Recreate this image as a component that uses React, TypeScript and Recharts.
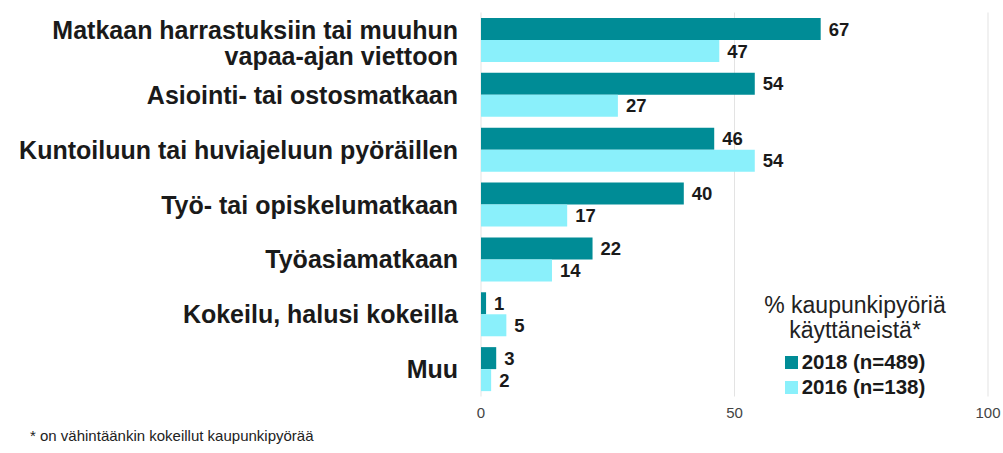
import React from 'react';
import { BarChart, Bar, XAxis, YAxis, CartesianGrid, LabelList, Legend } from 'recharts';

const categories: string[][] = [
  ['Matkaan harrastuksiin tai muuhun', 'vapaa-ajan viettoon'],
  ['Asiointi- tai ostosmatkaan'],
  ['Kuntoiluun tai huviajeluun pyöräillen'],
  ['Työ- tai opiskelumatkaan'],
  ['Työasiamatkaan'],
  ['Kokeilu, halusi kokeilla'],
  ['Muu'],
];
const values2018 = [67, 54, 46, 40, 22, 1, 3];
const values2016 = [47, 27, 54, 17, 14, 5, 2];
const xTicks = [0, 50, 100];
const seriesNames = ['2018 (n=489)', '2016 (n=138)'];
const legendTitle = ['% kaupunkipyöriä', 'käyttäneistä*'];
const footnote = '* on vähintäänkin kokeillut kaupunkipyörää';

const COLOR_2018 = '#008c96';
const COLOR_2016 = '#8af0fb';

const data = categories.map((lines, i) => ({
  name: lines.join(' '),
  lines,
  y2018: values2018[i],
  y2016: values2016[i],
}));

const FONT = '"Liberation Sans", Arial, sans-serif';

const CategoryTick = (props: any) => {
  const { x, y, payload, index } = props;
  const lines: string[] = categories[index] ?? [payload.value];
  const lh = 25.5;
  const start = lines.length > 1 ? y - 9.5 : y;
  return (
    <text x={x} y={start} textAnchor="end" fontFamily={FONT} fontWeight="bold" fontSize={25} fill="#1a1a1a">
      {lines.map((l, i) => (
        <tspan key={i} x={x} y={start + i * lh} dy="0.36em">
          {l}
        </tspan>
      ))}
    </text>
  );
};

const renderLegend = () => (
  <div style={{ fontFamily: FONT, textAlign: 'center', width: 250, color: '#222' }}>
    {legendTitle.map((t, i) => (
      <div key={i} style={{ fontSize: 23, lineHeight: '25px' }}>{t}</div>
    ))}
    <div style={{ height: 6 }} />
    {seriesNames.map((n, i) => (
      <div key={n} style={{ fontSize: 20.5, fontWeight: 'bold', lineHeight: '25px', color: '#1a1a1a' }}>
        <span
          style={{
            display: 'inline-block',
            width: 13,
            height: 13,
            background: i === 0 ? COLOR_2018 : COLOR_2016,
            marginRight: 4,
            verticalAlign: 'baseline',
          }}
        />
        {n}
      </div>
    ))}
  </div>
);

export default function App() {
  return (
    <div style={{ position: 'absolute', left: 0, top: 0, width: 1003, height: 453, background: '#fff' }}>
      <BarChart
        width={1003}
        height={453}
        data={data}
        layout="vertical"
        margin={{ top: 12.5, right: 15, bottom: 26.5, left: 0 }}
        barCategoryGap="10%"
        barGap={0}
      >
        <CartesianGrid horizontal={false} vertical={true} stroke="#e3e3e3" />
        <XAxis
          type="number"
          domain={[0, 100]}
          ticks={xTicks}
          axisLine={false}
          tickLine={false}
          height={30}
          tick={{ fontSize: 15, fill: '#444', fontFamily: FONT }}
          tickMargin={5}
        />
        <YAxis
          type="category"
          dataKey="name"
          width={481}
          axisLine={false}
          tickLine={false}
          tick={<CategoryTick />}
          tickMargin={17}
          interval={0}
        />
        <Legend
          layout="horizontal"
          verticalAlign="middle"
          align="center"
          content={renderLegend}
          wrapperStyle={{ position: 'absolute', left: 730, top: 293, width: 250, height: 110 }}
        />
        <Bar dataKey="y2018" name={seriesNames[0]} fill={COLOR_2018} isAnimationActive={false}>
          <LabelList
            dataKey="y2018"
            position="right"
            offset={8}
            style={{ fontFamily: FONT, fontWeight: 'bold', fontSize: 18.5, fill: '#1a1a1a' }}
          />
        </Bar>
        <Bar dataKey="y2016" name={seriesNames[1]} fill={COLOR_2016} isAnimationActive={false}>
          <LabelList
            dataKey="y2016"
            position="right"
            offset={8}
            style={{ fontFamily: FONT, fontWeight: 'bold', fontSize: 18.5, fill: '#1a1a1a' }}
          />
        </Bar>
      </BarChart>
      <div
        style={{
          position: 'absolute',
          left: 30,
          top: 427,
          fontFamily: FONT,
          fontSize: 15,
          color: '#222',
          whiteSpace: 'nowrap',
        }}
      >
        {footnote}
      </div>
    </div>
  );
}
